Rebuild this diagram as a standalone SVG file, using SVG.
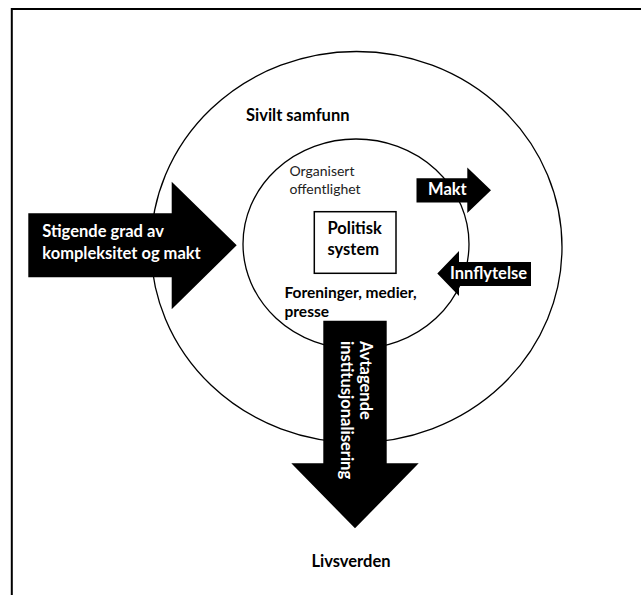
<svg xmlns="http://www.w3.org/2000/svg" width="641" height="595" viewBox="0 0 641 595">
<style>
  .ring { fill: none; stroke: #000; stroke-width: 1.3; }
  .b { font-family: Lato, "Liberation Sans", sans-serif; font-weight: bold; fill: #000; }
  .w { font-family: Lato, "Liberation Sans", sans-serif; font-weight: bold; fill: #fff; }
  .r { font-family: Lato, "Liberation Sans", sans-serif; font-weight: normal; fill: #222; }
  .arrow { fill: #000; }
</style>
<rect x="0" y="0" width="641" height="595" fill="#fff"/>
<path d="M11.8,595 V9 H641" fill="none" stroke="#000" stroke-width="2"/>

<g id="sivilt-samfunn">
  <ellipse class="ring" cx="356.5" cy="247" rx="205.5" ry="195.5"/>
  <text class="b" x="246" y="121" font-size="16.5">Sivilt samfunn</text>
</g>

<g id="organisert-offentlighet">
  <ellipse class="ring" cx="356" cy="244" rx="113" ry="105"/>
  <text class="r" x="289.5" y="176" font-size="14">Organisert</text>
  <text class="r" x="289.5" y="194" font-size="14">offentlighet</text>
  <text class="b" x="284.5" y="297.5" font-size="15.5">Foreninger, medier,</text>
  <text class="b" x="284.5" y="316.5" font-size="15.5">presse</text>
</g>

<g id="politisk-system">
  <rect x="314.3" y="211.7" width="81.7" height="61.6" fill="#fff" stroke="#000" stroke-width="1.5"/>
  <text class="b" x="327.5" y="234" font-size="16.5">Politisk</text>
  <text class="b" x="327.5" y="255" font-size="16.5">system</text>
</g>

<g id="livsverden">
  <text class="b" x="351" y="567.3" font-size="16.5" text-anchor="middle">Livsverden</text>
</g>

<g id="connectors">
  <g id="arrow-kompleksitet">
    <polygon class="arrow" points="28.3,213.3 171.7,213.3 171.7,181.7 236.7,245.3 171.7,309.3 171.7,277.3 28.3,277.3"/>
    <text class="w" x="42.3" y="237" font-size="16.5">Stigende grad av</text>
    <text class="w" x="42.3" y="259" font-size="16.5">kompleksitet og makt</text>
  </g>
  <g id="arrow-makt">
    <polygon class="arrow" points="416.5,178.3 467.3,178.3 467.3,167.5 491,190.3 467.3,213 467.3,202.5 416.5,202.5"/>
    <text class="w" x="428" y="195" font-size="16.5">Makt</text>
  </g>
  <g id="arrow-innflytelse">
    <polygon class="arrow" points="531,262 459,262 459,251 437.3,273.5 459,296 459,286 531,286"/>
    <text class="w" x="450" y="278.5" font-size="16.5">Innflytelse</text>
  </g>
  <g id="arrow-institusjonalisering">
    <polygon class="arrow" points="323.3,320.7 386.7,320.7 386.7,463.3 418.7,463.3 355,528.3 291.3,463.3 323.3,463.3"/>
    <text class="w" font-size="16.5" transform="translate(360,341) rotate(90)">Avtagende</text>
    <text class="w" font-size="16.5" transform="translate(341,341) rotate(90)">institusjonalisering</text>
  </g>
</g>
</svg>
